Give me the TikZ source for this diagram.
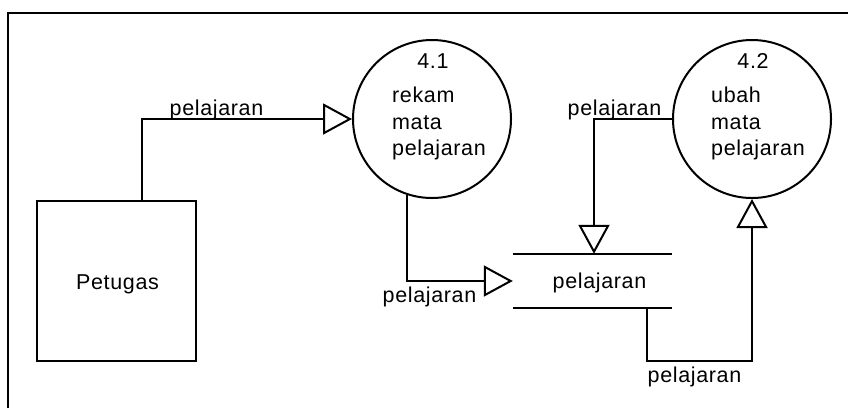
\documentclass[tikz,border=0pt]{standalone}
\usepackage{fontspec}
\setmainfont{Liberation Sans}[LetterSpace=3]
\usetikzlibrary{arrows.meta}
\tikzset{
  ln/.style={line width=2pt, line cap=rect},
  proc/.style={circle, draw, line width=2pt, minimum size=158pt, inner sep=0pt},
  ext/.style={rectangle, draw, line width=2pt, minimum width=159pt, minimum height=160pt, inner sep=0pt},
  storebox/.style={rectangle, minimum width=159pt, minimum height=54pt, inner sep=0pt},
  flow/.style={line width=2pt, -{Triangle[open, length=29pt, width=31pt, fill=white]}},
  txt/.style={inner sep=0pt, anchor=base, font=\fontsize{21.5}{22}\selectfont},
  txtl/.style={inner sep=0pt, anchor=base west, font=\fontsize{21.5}{22}\selectfont}
}
\begin{document}
\begin{tikzpicture}[x=1pt,y=-1pt]
\useasboundingbox (0,0) rectangle (848,408);
% frame
\coordinate (fa) at (8,408);
\coordinate (fb) at (8,13);
\coordinate (fc) at (848,13);
\draw[line width=2pt] (fa) -- (fb) -- (fc);

% nodes
\node[ext] (ent) at (116.5,281) {};
\node[txt] (entt) at (117.5,289) {Petugas};

\node[proc] (p41) at (432,119) {};
\node[txt] (n41) at (433,68) {4.1};
\node[txtl] (a41) at (392,102) {rekam};
\node[txtl] (b41) at (392,129) {mata};
\node[txtl] (c41) at (392,155.5) {pelajaran};

\node[proc] (p42) at (752,119) {};
\node[txt] (n42) at (753,68) {4.2};
\node[txtl] (a42) at (711,102) {ubah};
\node[txtl] (b42) at (711,129) {mata};
\node[txtl] (c42) at (711,155.5) {pelajaran};

\node[storebox] (store) at (592.5,281) {};
\draw[ln, line cap=butt] (store.north west) -- (store.north east);
\draw[ln, line cap=butt] (store.south west) -- (store.south east);
\node[txt] (storet) at (599.5,288) {pelajaran};

% flows
\draw[flow] ([xshift=25.5pt]ent.north) |- (p41.west);
\node[txt] (l1) at (216.5,115) {pelajaran};

\draw[flow] (p41.252) |- (store.west);
\node[txt] (l2) at (429.5,302) {pelajaran};

\draw[flow] (p42.west) -| ([xshift=1.5pt]store.north);
\node[txt] (l3) at (614.5,115) {pelajaran};

\draw[flow] ([xshift=54.5pt]store.south) -- ++(0,53) -| (p42.south);
\node[txt] (l4) at (694.5,382) {pelajaran};
\end{tikzpicture}
\end{document}
